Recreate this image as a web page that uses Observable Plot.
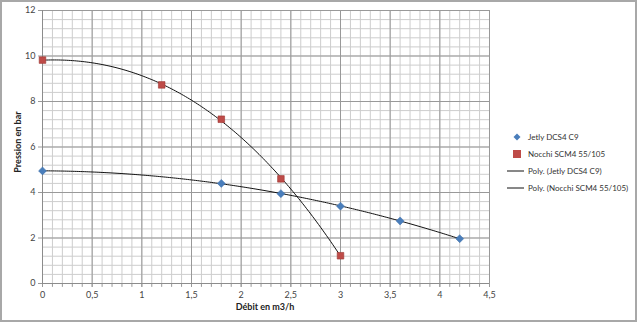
<!DOCTYPE html>
<html><head><meta charset="utf-8">
<script src="https://cdn.jsdelivr.net/npm/d3@7"></script>
<script src="https://cdn.jsdelivr.net/npm/@observablehq/plot@0.6"></script>
<style>body{margin:0;background:#fff}svg{display:block}</style>
</head><body><div id="chart"></div>
<script>
const jetlyX = [0, 1.8, 2.4, 3, 3.6, 4.2];
const jetlyY = [4.95, 4.4, 3.95, 3.4, 2.75, 1.97];
const nocchiX = [0, 1.2, 1.8, 2.4, 3];
const nocchiY = [9.82, 8.73, 7.22, 4.6, 1.22];
const xTicks = [0, 0.5, 1, 1.5, 2, 2.5, 3, 3.5, 4, 4.5];
const yTicks = [0, 2, 4, 6, 8, 10, 12];
const legendLabels = ["Jetly DCS4 C9", "Nocchi SCM4 55/105", "Poly. (Jetly DCS4 C9)", "Poly. (Nocchi SCM4 55/105)"];

function polyfit(xs, ys, order) {
  const n = order + 1;
  const A = Array.from({length: n}, () => new Array(n + 1).fill(0));
  xs.forEach((x, k) => {
    for (let i = 0; i < n; i++) {
      for (let j = 0; j < n; j++) A[i][j] += Math.pow(x, i + j);
      A[i][n] += ys[k] * Math.pow(x, i);
    }
  });
  for (let i = 0; i < n; i++) {
    let p = i;
    for (let r = i + 1; r < n; r++) if (Math.abs(A[r][i]) > Math.abs(A[p][i])) p = r;
    [A[i], A[p]] = [A[p], A[i]];
    for (let r = 0; r < n; r++) if (r !== i) {
      const f = A[r][i] / A[i][i];
      for (let c = i; c <= n; c++) A[r][c] -= f * A[i][c];
    }
  }
  const coef = A.map((row, i) => row[n] / row[i]);
  return x => coef.reduce((s, c, i) => s + c * Math.pow(x, i), 0);
}
const fJ = polyfit(jetlyX, jetlyY, 2);
const fN = polyfit(nocchiX, nocchiY, 3);
const curveJ = d3.range(0, 4.2001, 0.02).map(x => ({x, y: fJ(x)}));
const curveN = d3.range(0, 3.0001, 0.02).map(x => ({x, y: fN(x)}));
const jetly = jetlyX.map((x, i) => ({x, y: jetlyY[i]}));
const nocchi = nocchiX.map((x, i) => ({x, y: nocchiY[i]}));
const xMinor = d3.range(0, 46).map(i => i / 10);
const yMinor = d3.range(0, 31).map(i => +(i * 0.4).toFixed(1));
const fmt = d => String(d).replace(".", ",");

const chart = Plot.plot({
  width: 639, height: 325,
  marginLeft: 42, marginRight: 150, marginTop: 10, marginBottom: 42,
  style: {fontFamily: "Lato, sans-serif", fontSize: "9px", background: "#fff", color: "#333"},
  x: {type: "linear", domain: [0, 4.5]},
  y: {type: "linear", domain: [0, 12]},
  marks: [
    Plot.ruleX(xMinor, {x: d => d, stroke: "#cdcdcd", strokeWidth: 1, y1: 0, y2: 12}),
    Plot.ruleY(yMinor, {y: d => d, stroke: "#cdcdcd", strokeWidth: 1, x1: 0, x2: 4.5}),
    Plot.ruleX(xTicks, {x: d => d, stroke: "#999", strokeWidth: 1, y1: 0, y2: 12}),
    Plot.ruleY(yTicks, {y: d => d, stroke: "#999", strokeWidth: 1, x1: 0, x2: 4.5}),
    Plot.ruleX(xMinor, {x: d => d, y1: 0, y2: -0.17, stroke: "#999", strokeWidth: 1}),
    Plot.axisX({ticks: xTicks, tickFormat: fmt, tickSize: 4, tickPadding: 4, stroke: "#999", label: null, fill: "#444"}),
    Plot.axisY({ticks: yTicks, tickSize: 4, tickPadding: 3, stroke: "#999", label: null, fill: "#444"}),
    Plot.ruleX([0], {x: d => d, y1: 0, y2: 12, stroke: "#8c8c8c"}),
    Plot.ruleY([0], {y: d => d, x1: 0, x2: 4.5, stroke: "#8c8c8c"}),
    Plot.line(curveJ, {x: "x", y: "y", stroke: "#111", strokeWidth: 1}),
    Plot.line(curveN, {x: "x", y: "y", stroke: "#111", strokeWidth: 1}),
    Plot.dot(jetly, {x: "x", y: "y", symbol: "diamond2", r: 3.6, fill: "#4a7ebb", stroke: "#3f6fa8", strokeWidth: 0.5}),
    Plot.dot(nocchi, {x: "x", y: "y", symbol: "square2", r: 4.2, fill: "#be4b48", stroke: "#9c3633", strokeWidth: 0.6})
  ]
});
document.getElementById("chart").appendChild(chart);

const svg = d3.select(chart);
svg.append("text").attr("x", 265).attr("y", 310).attr("text-anchor", "middle")
  .attr("font-weight", "bold").attr("font-size", 9).attr("fill", "#222").text("Débit en m3/h");
svg.append("text").attr("transform", "translate(21,142) rotate(-90)").attr("text-anchor", "middle")
  .attr("font-weight", "bold").attr("font-size", 9).attr("fill", "#222").text("Pression en bar");

const lg = svg.append("g").attr("font-size", 8).attr("fill", "#333").attr("text-anchor", "start");
legendLabels.forEach((t, i) => {
  const y = 137 + i * 17;
  if (i === 0) lg.append("path").attr("d", `M517,${y - 3.5}L520.5,${y}L517,${y + 3.5}L513.5,${y}Z`).attr("fill", "#4a7ebb");
  else if (i === 1) lg.append("rect").attr("x", 513).attr("y", y - 4).attr("width", 8).attr("height", 8).attr("fill", "#be4b48");
  else lg.append("line").attr("x1", 507).attr("x2", 524).attr("y1", y).attr("y2", y).attr("stroke", "#111");
  lg.append("text").attr("x", 528).attr("y", y).attr("dy", "0.35em").text(t);
});
svg.append("rect").attr("x", 1).attr("y", 1).attr("width", 635).attr("height", 320)
  .attr("fill", "none").attr("stroke", "#a8a8a8").attr("stroke-width", 2);
</script></body></html>
